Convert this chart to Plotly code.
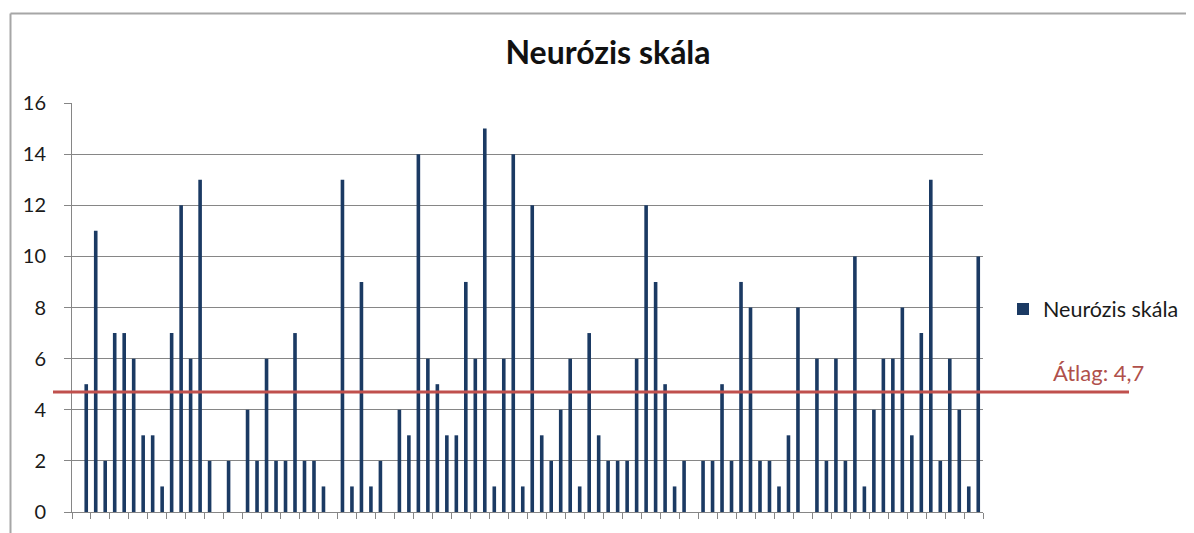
import plotly.graph_objects as go

# Data (96 respondents; first category has value 0)
categories = [str(i) for i in range(1, 97)]
values = [0,
          5, 11, 2, 7, 7, 6, 3, 3, 1, 7, 12, 6, 13, 2, 0, 2, 0, 4, 2, 6,
          2, 2, 7, 2, 2, 1, 0, 13, 1, 9, 1, 2,
          0, 4, 3, 14, 6, 5, 3, 3, 9, 6, 15, 1, 6, 14, 1, 12, 3, 2, 4, 6,
          1, 7, 3, 2, 2, 2, 6, 12, 9, 5, 1,
          2, 0, 2, 2, 5, 2, 9, 8, 2, 2, 1, 3, 8, 0, 6, 2, 6, 2, 10, 1,
          4, 6, 6, 8, 3, 7, 13, 2, 6, 4, 1, 10]
series_name = "Neurózis skála"
title_text = "Neurózis skála"
avg_label = "Átlag: 4,7"
y_ticks = [0, 2, 4, 6, 8, 10, 12, 14, 16]

mean_value = sum(values) / len(values)

BAR = "#1B3A63"
RED = "#C0504D"
GRID = "#868686"
FONT = "Lato"

# page offset (default body margin) and plot-area geometry in page pixels
OFF = 8
W, H = 1194, 533
L, R, T, B = 72 - OFF, 983 - OFF, 103 - OFF, 512 - OFF
pw, ph = R - L, B - T


def px_x(p):
    return (p - OFF - L) / pw


def px_y(p):
    return (B - (p - OFF)) / ph


fig = go.Figure()
fig.add_trace(go.Bar(
    x=categories, y=values, name=series_name,
    marker=dict(color=BAR, line=dict(width=0)),
    showlegend=True,
))

fig.update_layout(
    width=W, height=H, autosize=False,
    margin=dict(l=L, r=W - R, t=T, b=H - B, pad=0),
    paper_bgcolor="white", plot_bgcolor="white",
    bargap=0.62,
    font=dict(family=FONT, color="#1a1a1a"),
    title=dict(text="<b>" + title_text + "</b>", x=px_x(608), xref="paper",
               xanchor="center", y=1 - (53 - OFF) / H, yref="container",
               yanchor="middle", font=dict(size=32, family=FONT, color="#111111")),
    showlegend=True,
    legend=dict(x=px_x(1003), xanchor="left", y=px_y(309), yanchor="middle",
                font=dict(size=21.5, family=FONT, color="#1a1a1a"),
                bgcolor="rgba(0,0,0,0)", itemwidth=30),
    xaxis=dict(type="category", categoryorder="array", categoryarray=categories,
               range=[-0.5, len(categories) - 0.5],
               showticklabels=False, ticks="outside", tickson="boundaries",
               ticklen=6, tickcolor=GRID, tickwidth=1,
               showline=True, linecolor=GRID, linewidth=1,
               showgrid=False, zeroline=False, fixedrange=True),
    yaxis=dict(range=[0, 16], tickvals=y_ticks, ticks="outside", ticklen=7,
               tickcolor=GRID, showline=True, linecolor=GRID, linewidth=1,
               showgrid=True, gridcolor=GRID, gridwidth=1.2, zeroline=False,
               tickfont=dict(size=20, family=FONT, color="#1a1a1a"),
               ticklabelstandoff=14, fixedrange=True),
)

# average line (computed from the data), drawn above the bars
fig.add_shape(type="line", xref="paper", yref="y",
              x0=px_x(53), x1=px_x(1129), y0=mean_value, y1=mean_value,
              line=dict(color=RED, width=3), layer="above")
fig.add_annotation(text=avg_label, xref="paper", yref="paper",
                   x=px_x(1098), y=px_y(372), xanchor="center", yanchor="middle",
                   showarrow=False, font=dict(size=22, family=FONT, color="#B0504A"))

# chart-area border (top and left edges visible)
fig.add_shape(type="line", xref="paper", yref="paper",
              x0=px_x(10.5), x1=px_x(1210), y0=px_y(13.5), y1=px_y(13.5),
              line=dict(color="#A6A6A6", width=2), layer="below")
fig.add_shape(type="line", xref="paper", yref="paper",
              x0=px_x(10.5), x1=px_x(10.5), y0=px_y(13.5), y1=px_y(560),
              line=dict(color="#A6A6A6", width=2), layer="below")

fig.write_html("out.html")
